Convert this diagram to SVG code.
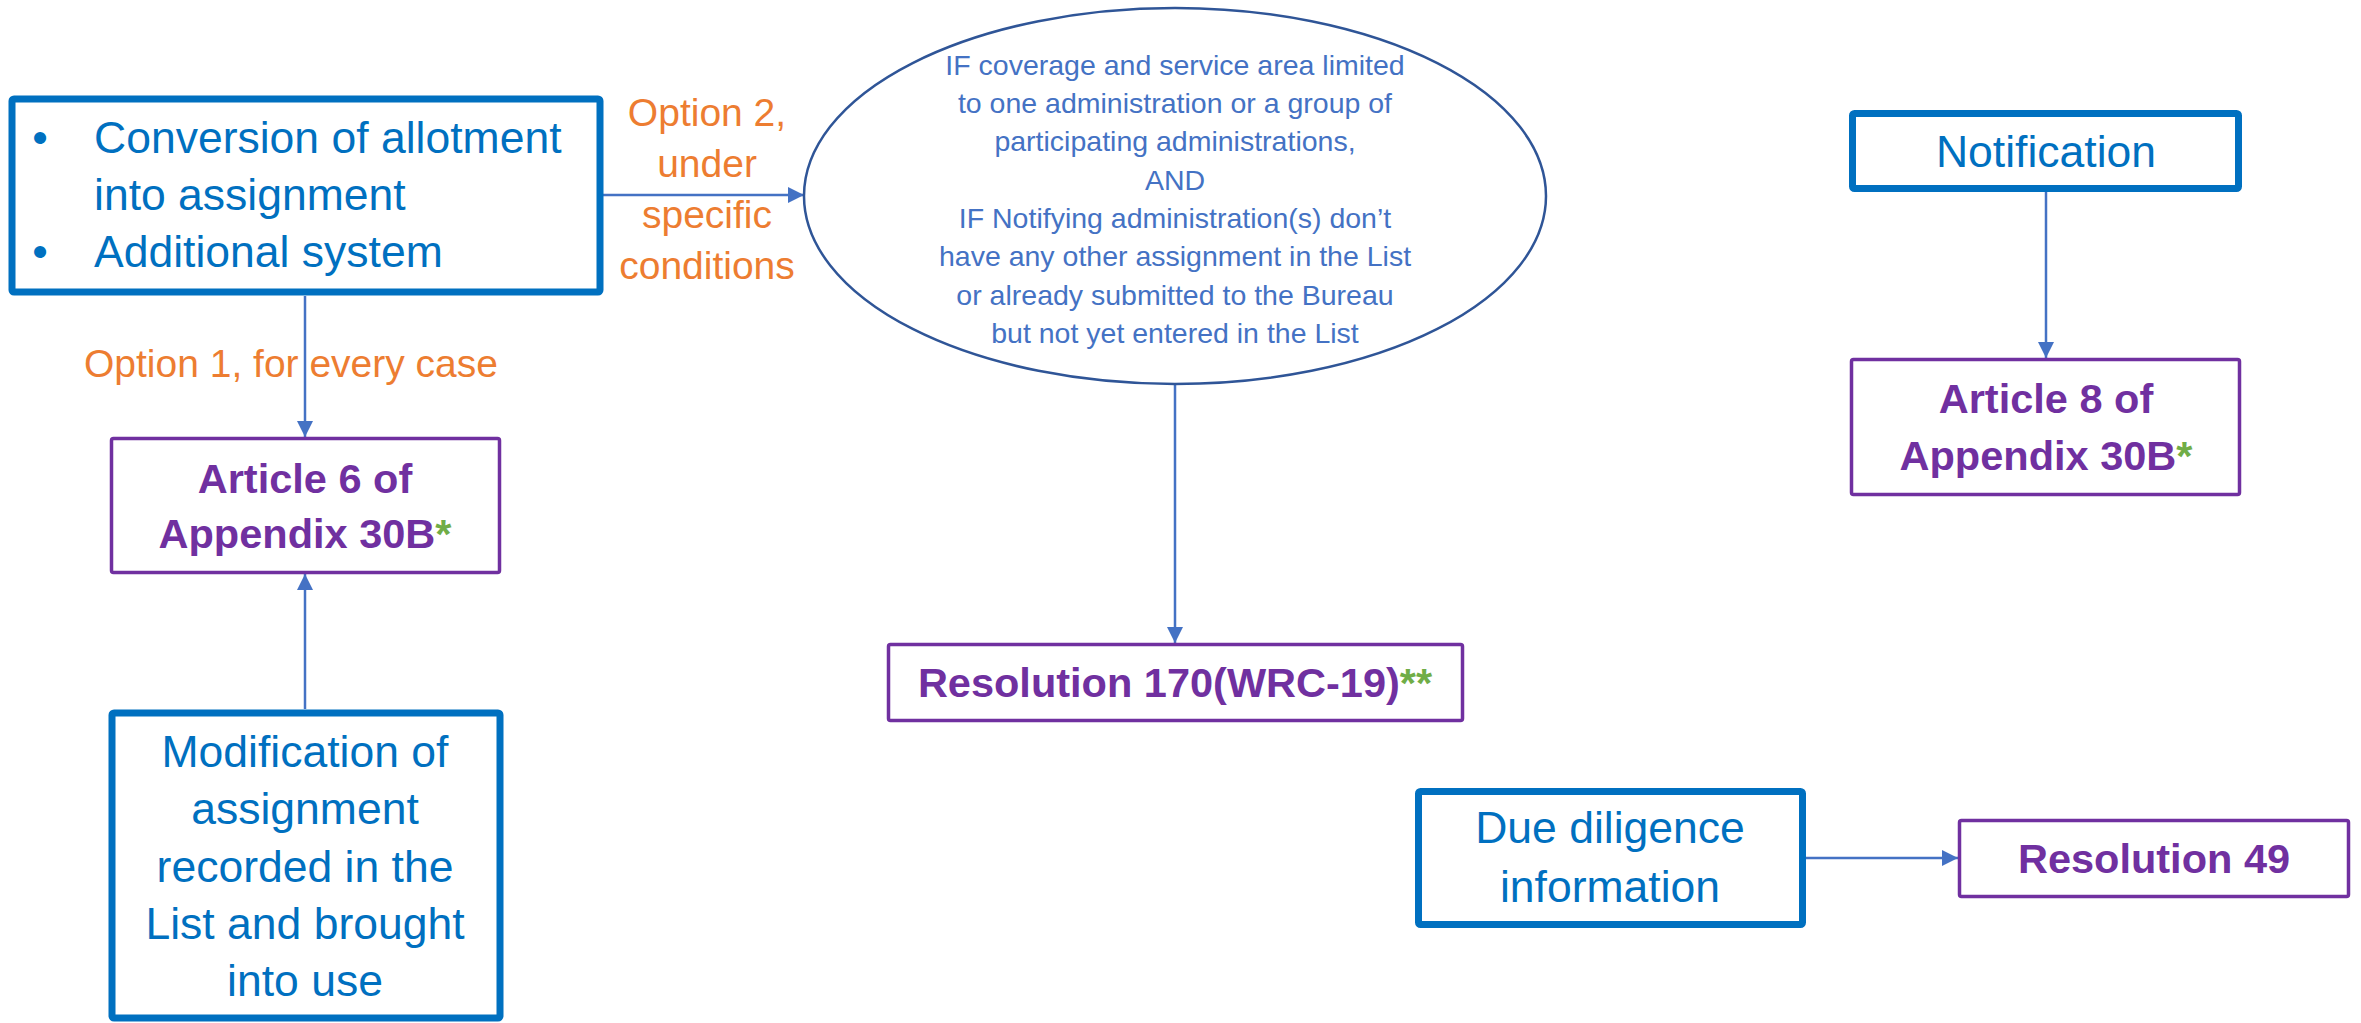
<svg xmlns="http://www.w3.org/2000/svg" width="2361" height="1023" viewBox="0 0 2361 1023">
  <defs>
    <marker id="arrow" viewBox="0 0 10 10" refX="10" refY="5" markerWidth="16" markerHeight="16" markerUnits="userSpaceOnUse" orient="auto">
      <path d="M0,0 L10,5 L0,10 Z" fill="#4472C4"/>
    </marker>
    <style>
      .src { fill: #FFFFFF; stroke: #0070C0; stroke-width: 7; }
      .dst { fill: #FFFFFF; stroke: #7030A0; stroke-width: 3.5; }
      .cond { fill: #FFFFFF; stroke: #2F5597; stroke-width: 2.5; }
      .conn { fill: none; stroke: #4472C4; stroke-width: 2.5; marker-end: url(#arrow); }
      .blue { font-family: "Liberation Sans", Arial, sans-serif; font-size: 44.5px; fill: #0070C0; }
      .purple { font-family: "Liberation Sans", Arial, sans-serif; font-size: 41.5px; font-weight: bold; fill: #7030A0; }
      .star { fill: #70AD47; }
      .orange { font-family: "Liberation Sans", Arial, sans-serif; font-size: 39px; fill: #ED7D31; }
      .ell { font-family: "Liberation Sans", Arial, sans-serif; font-size: 28.5px; fill: #4472C4; }
      .mid { text-anchor: middle; }
    </style>
  </defs>

  <g id="connectors">
    <line class="conn" x1="603" y1="195" x2="804" y2="195"/>
    <line class="conn" x1="305" y1="296" x2="305" y2="437"/>
    <line class="conn" x1="305" y1="709" x2="305" y2="574"/>
    <line class="conn" x1="1175" y1="384" x2="1175" y2="643"/>
    <line class="conn" x1="2046" y1="192" x2="2046" y2="358"/>
    <line class="conn" x1="1806" y1="858" x2="1958" y2="858"/>
    <text class="orange mid" x="707" y="126">Option 2,</text>
    <text class="orange mid" x="707" y="177">under</text>
    <text class="orange mid" x="707" y="228">specific</text>
    <text class="orange mid" x="707" y="279">conditions</text>
    <text class="orange mid" x="291" y="377">Option 1, for every case</text>
  </g>

  <g id="conversion">
    <rect class="src" x="12" y="99" width="588" height="193" rx="2"/>
    <text class="blue mid" x="40" y="153">•</text>
    <text class="blue" x="94" y="153">Conversion of allotment</text>
    <text class="blue" x="94" y="210">into assignment</text>
    <text class="blue mid" x="40" y="267">•</text>
    <text class="blue" x="94" y="267">Additional system</text>
  </g>

  <g id="condition">
    <ellipse class="cond" cx="1175" cy="196" rx="371" ry="188"/>
    <text class="ell mid" x="1175" y="75">IF coverage and service area limited</text>
    <text class="ell mid" x="1175" y="113">to one administration or a group of</text>
    <text class="ell mid" x="1175" y="151">participating administrations,</text>
    <text class="ell mid" x="1175" y="190">AND</text>
    <text class="ell mid" x="1175" y="228">IF Notifying administration(s) don’t</text>
    <text class="ell mid" x="1175" y="266">have any other assignment in the List</text>
    <text class="ell mid" x="1175" y="305">or already submitted to the Bureau</text>
    <text class="ell mid" x="1175" y="343">but not yet entered in the List</text>
  </g>

  <g id="article6">
    <rect class="dst" x="111.5" y="438.5" width="388" height="134" rx="2"/>
    <text class="purple mid" x="305" y="493">Article 6 of</text>
    <text class="purple mid" x="305" y="548">Appendix 30B<tspan class="star">*</tspan></text>
  </g>

  <g id="modification">
    <rect class="src" x="112" y="713" width="388" height="305" rx="2"/>
    <text class="blue mid" x="305" y="767">Modification of</text>
    <text class="blue mid" x="305" y="824">assignment</text>
    <text class="blue mid" x="305" y="882">recorded in the</text>
    <text class="blue mid" x="305" y="939">List and brought</text>
    <text class="blue mid" x="305" y="996">into use</text>
  </g>

  <g id="resolution170">
    <rect class="dst" x="888.5" y="644.5" width="574" height="76" rx="2"/>
    <text class="purple mid" x="1175" y="697">Resolution 170(WRC-19)<tspan class="star">**</tspan></text>
  </g>

  <g id="notification">
    <rect class="src" x="1852.5" y="113.5" width="386" height="75" rx="2"/>
    <text class="blue mid" x="2046" y="167">Notification</text>
  </g>

  <g id="article8">
    <rect class="dst" x="1851.5" y="359.5" width="388" height="135" rx="2"/>
    <text class="purple mid" x="2046" y="413">Article 8 of</text>
    <text class="purple mid" x="2046" y="470">Appendix 30B<tspan class="star">*</tspan></text>
  </g>

  <g id="duediligence">
    <rect class="src" x="1418.5" y="791.5" width="384" height="133" rx="2"/>
    <text class="blue mid" x="1610" y="843">Due diligence</text>
    <text class="blue mid" x="1610" y="902">information</text>
  </g>

  <g id="resolution49">
    <rect class="dst" x="1959.5" y="820.5" width="389" height="76" rx="2"/>
    <text class="purple mid" x="2154" y="873">Resolution 49</text>
  </g>
</svg>
